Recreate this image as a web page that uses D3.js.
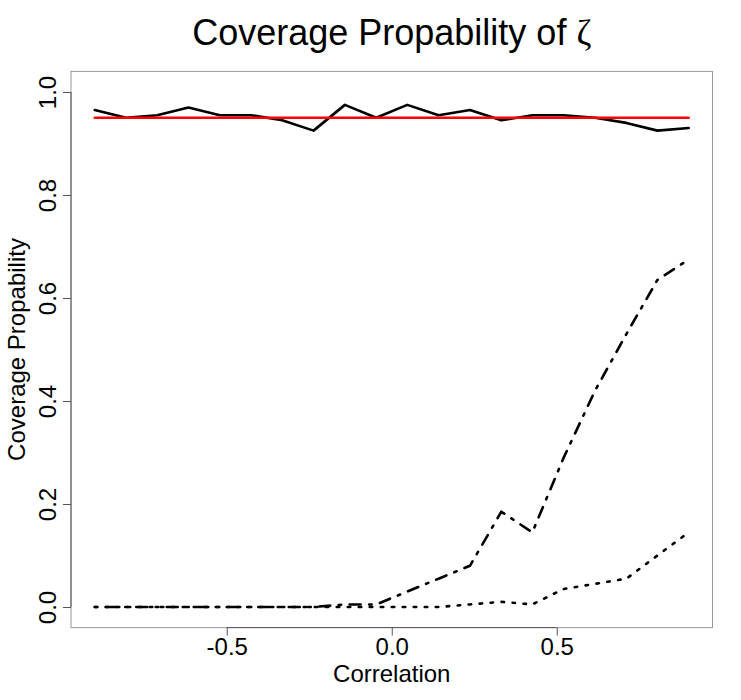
<!DOCTYPE html>
<html>
<head>
<meta charset="utf-8">
<script src="https://cdn.jsdelivr.net/npm/d3@7"></script>
<style>
    body { margin: 0; background: #fff; }
    text { font-family: "Liberation Sans", Arial, Helvetica, sans-serif; fill: #000; }
</style>
</head>
<body>
<div id="chart"></div>
<script>
// correlation values on the x axis
const correlation = [-0.9, -0.805, -0.711, -0.616, -0.521, -0.426, -0.332, -0.237, -0.142, -0.047,
    0.047, 0.142, 0.237, 0.332, 0.426, 0.521, 0.616, 0.711, 0.805, 0.9];

// coverage of the three methods
const coverageSolid = [0.965, 0.95, 0.955, 0.97, 0.955, 0.955, 0.945, 0.925, 0.975, 0.95,
    0.975, 0.955, 0.965, 0.945, 0.955, 0.955, 0.95, 0.94, 0.925, 0.93];
const coverageDotDash = [0, 0, 0, 0, 0, 0, 0, 0, 0.005, 0.005,
    0.03, 0.055, 0.08, 0.185, 0.145, 0.29, 0.42, 0.53, 0.635, 0.675];
const coverageDotted = [0, 0, 0, 0, 0, 0, 0, 0, 0, 0,
    0, 0, 0.005, 0.01, 0.005, 0.035, 0.045, 0.055, 0.1, 0.145];

// nominal level
const nominalX = [-0.9, 0.9];
const nominalY = [0.95, 0.95];

const xTicks = [-0.5, 0, 0.5];
const yTicks = [0, 0.2, 0.4, 0.6, 0.8, 1.0];

(function() {
    const width = 741, height = 700;
    const plot = { left: 71, right: 712.5, top: 71.4, bottom: 627.6 };

    // R style axis padding: 4% on each side
    const xExt = d3.extent(correlation);
    const xPad = (xExt[1] - xExt[0]) * 0.04;
    const xScale = d3.scaleLinear().domain([xExt[0] - xPad, xExt[1] + xPad]).range([plot.left, plot.right]);
    const yScale = d3.scaleLinear().domain([-0.04, 1.04]).range([plot.bottom, plot.top]);

    const svg = d3.select("#chart").append("svg")
        .attr("width", width)
        .attr("height", height);

    // title (zeta in a symbol-like serif face)
    const title = svg.append("text")
        .attr("x", (plot.left + plot.right) / 2)
        .attr("y", 45)
        .attr("text-anchor", "middle")
        .style("font-size", "36px");
    title.append("tspan").text("Coverage Propability of ");
    title.append("tspan")
        .style("font-family", "'Liberation Serif', 'DejaVu Serif', serif")
        .text("ζ");

    // box
    svg.append("rect")
        .attr("x", plot.left)
        .attr("y", plot.top)
        .attr("width", plot.right - plot.left)
        .attr("height", plot.bottom - plot.top)
        .attr("fill", "none")
        .attr("stroke", "#999")
        .attr("stroke-width", 1);

    // x axis
    const xAxis = d3.axisBottom(xScale)
        .tickValues(xTicks)
        .tickSize(8)
        .tickPadding(4)
        .tickFormat(d3.format(".1f"));
    const gx = svg.append("g")
        .attr("transform", `translate(0, ${plot.bottom})`)
        .call(xAxis);
    gx.select(".domain")
        .attr("d", `M${xScale(xTicks[0])},0H${xScale(xTicks[xTicks.length - 1])}`)
        .attr("stroke", "#555");
    gx.selectAll(".tick line").attr("stroke", "#555");
    gx.selectAll(".tick text")
        .attr("y", 27)
        .attr("dy", null)
        .style("font-size", "24px")
        .style("font-family", "'Liberation Sans', Arial, sans-serif")
        .text(d => d3.format(".1f")(d).replace("−", "-"));

    // y axis
    const yAxis = d3.axisLeft(yScale)
        .tickValues(yTicks)
        .tickSize(8)
        .tickFormat(d3.format(".1f"));
    const gy = svg.append("g")
        .attr("transform", `translate(${plot.left}, 0)`)
        .call(yAxis);
    gy.select(".domain")
        .attr("d", `M0,${yScale(yTicks[0])}V${yScale(yTicks[yTicks.length - 1])}`)
        .attr("stroke", "#555");
    gy.selectAll(".tick line").attr("stroke", "#555");
    gy.selectAll(".tick text")
        .attr("x", null)
        .attr("dy", null)
        .attr("text-anchor", "middle")
        .attr("transform", "translate(-15, 0) rotate(-90)")
        .style("font-size", "24px")
        .style("font-family", "'Liberation Sans', Arial, sans-serif");

    // axis titles
    svg.append("text")
        .attr("x", (plot.left + plot.right) / 2)
        .attr("y", 682)
        .attr("text-anchor", "middle")
        .style("font-size", "24px")
        .text("Correlation");

    svg.append("text")
        .attr("transform", `translate(25, ${(plot.top + plot.bottom) / 2}) rotate(-90)`)
        .attr("text-anchor", "middle")
        .style("font-size", "24px")
        .text("Coverage Propability");

    // lines
    const line = d3.line()
        .x(d => xScale(d[0]))
        .y(d => yScale(d[1]));

    function drawSeries(values, xs, color, dash, w) {
        svg.append("path")
            .datum(xs.map((x, i) => [x, values[i]]))
            .attr("fill", "none")
            .attr("stroke", color)
            .attr("stroke-width", w)
            .attr("stroke-linejoin", "round")
            .attr("stroke-linecap", "round")
            .attr("stroke-dasharray", dash)
            .attr("d", line);
    }

    drawSeries(coverageSolid, correlation, "#000", null, 2.6);
    drawSeries(coverageDotDash, correlation, "#000", "2.5 8.5 11 8.5", 2.6);
    drawSeries(coverageDotted, correlation, "#000", "2.5 8.5", 2.6);
    drawSeries(nominalY, nominalX, "#ff0000", null, 2.5);
})();
</script>
</body>
</html>
